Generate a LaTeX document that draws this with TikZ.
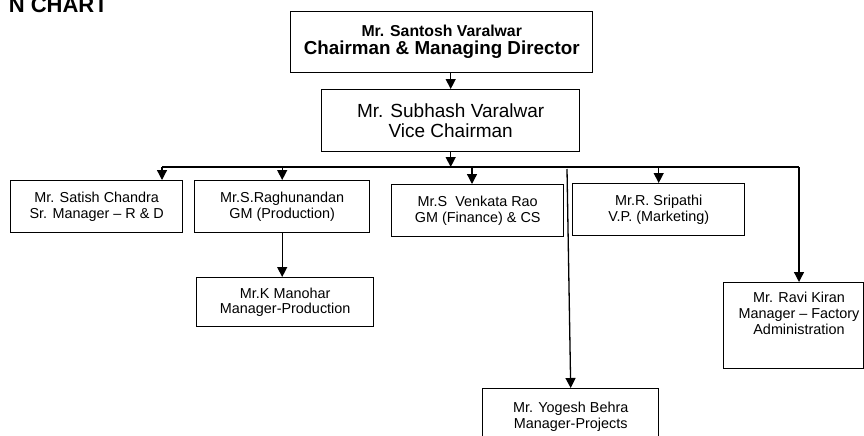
\documentclass[tikz,border=0pt]{standalone}
\usepackage{fontspec}
\setmainfont{Liberation Sans}
\usetikzlibrary{arrows.meta}
\begin{document}
\begin{tikzpicture}[x=1pt,y=-1pt,
  box/.style={draw,line width=1.4pt,inner sep=0pt,anchor=north west,align=center},
  sm/.style={font=\fontsize{14.4}{15.8}\selectfont},
  arr/.style={line width=1.3pt,-{Triangle[width=10pt,length=10pt]}},
  ln/.style={line width=1.3pt}]
\useasboundingbox (0,0) rectangle (864,436);
\clip (0,0) rectangle (864,436);
% title
\node[anchor=base east,inner sep=0pt,font=\bfseries\fontsize{22}{24}\selectfont] (title) at (108,12.5) {N CHART};
% boxes
\node[box,minimum width=302pt,minimum height=61pt,font=\bfseries\fontsize{18.8}{18}\selectfont] (cmd) at (290,11)
  {{\fontsize{15.8}{18}\selectfont Mr. Santosh Varalwar}\\Chairman \& Managing Director};
\node[box,minimum width=258pt,minimum height=62pt,font=\fontsize{19}{19.5}\selectfont] (vc) at (321,89)
  {Mr. Subhash Varalwar\\Vice Chairman};
\node[box,sm,minimum width=172pt,minimum height=52pt] (satish) at (10,180)
  {Mr. Satish Chandra\\Sr. Manager – R \& D};
\node[box,sm,minimum width=175pt,minimum height=52pt] (ragh) at (194,180)
  {Mr.S.Raghunandan\\GM (Production)};
\node[box,sm,minimum width=172pt,minimum height=52pt] (venk) at (391,184)
  {Mr.S~~Venkata Rao\\GM (Finance) \& CS};
\node[box,sm,minimum width=172pt,minimum height=52pt] (srip) at (572,183)
  {Mr.R. Sripathi\\V.P. (Marketing)};
\node[box,sm,minimum width=177pt,minimum height=49pt] (mano) at (196,277)
  {Mr.K Manohar\\Manager-Production};
\node[box,minimum width=140pt,minimum height=86pt] (ravi) at (723,282) {};
\node[box,sm,minimum width=176pt,minimum height=56pt] (yog) at (482,388)
  {Mr. Yogesh Behra\\Manager-Projects};
% connector points
\coordinate (busL) at (162,167);
\coordinate (busR) at (799,167);
\coordinate (dV) at (472,167);
\coordinate (yTop) at (567,169);
\node[sm,align=center,anchor=north,inner sep=0pt] (ravitxt) at ([yshift=-10pt]ravi.north -| busR)
  {Mr. Ravi Kiran\\Manager – Factory\\Administration};
% connectors
\draw[arr] (vc.north |- cmd.south) -- (vc.north);
\draw[arr] (vc.south) -- (vc.south |- busL);
\draw[ln] (busL) -- (busR);
\draw[arr] (busL) -- (busL |- satish.north);
\draw[arr] (ragh.north |- busL) -- (ragh.north);
\draw[arr] (dV) -- (dV |- venk.north);
\draw[arr] (srip.north |- busL) -- (srip.north);
\draw[arr] (busR) -- (busR |- ravi.north);
\draw[arr] (ragh.south) -- (ragh.south |- mano.north);
\draw[arr] (yTop) -- (yog.north);
\end{tikzpicture}
\end{document}
